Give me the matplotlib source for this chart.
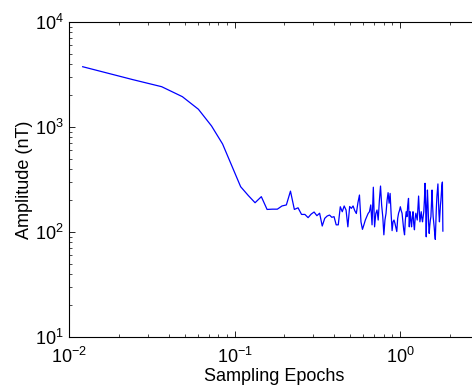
import matplotlib
matplotlib.use("Agg")
import matplotlib.pyplot as plt
import numpy as np

plt.rcParams["font.family"] = ["Liberation Sans", "DejaVu Sans"]
plt.rcParams["mathtext.fontset"] = "custom"
plt.rcParams["mathtext.rm"] = "Liberation Sans"
plt.rcParams["mathtext.it"] = "Liberation Sans"
plt.rcParams["mathtext.bf"] = "Liberation Sans"

# sampling epochs: evenly spaced grid
epoch_step = 0.0121
n_points = 150

# amplitude (nT)
amplitude = [
    3750, 2830, 2420, 1945, 1476, 1024, 689, 420, 270, 223,
    190, 217, 164, 165, 165, 177, 181, 245, 164, 170,
    147, 147, 137, 148, 155, 143, 151, 114, 135, 142,
    145, 138, 140, 117, 117, 174, 156, 177, 162, 112,
    175, 168, 177, 160, 150, 190, 225, 125, 106, 117,
    130, 140, 150, 156, 181, 117, 267, 112, 150, 162,
    130, 200, 274, 180, 140, 94, 130, 150, 200, 237,
    188, 233, 150, 103, 125, 130, 121, 110, 101, 135,
    151, 160, 174, 160, 151, 125, 105, 94, 130, 156,
    140, 180, 209, 112, 156, 130, 112, 140, 156, 120,
    105, 135, 151, 140, 130, 170, 220, 160, 125, 140,
    156, 135, 125, 140, 156, 200, 291, 180, 90, 170,
    251, 180, 120, 97, 115, 130, 140, 190, 251, 180,
    140, 125, 110, 95, 85, 120, 170, 217, 250, 287,
    200, 150, 125, 150, 180, 202, 240, 280, 299, 102,
]

epochs = epoch_step * np.arange(1, n_points + 1)

fig = plt.figure(figsize=(4.72, 3.90), dpi=100)
ax = fig.add_axes([69 / 472, 1 - 337 / 390, (479 - 69) / 472, (337 - 22) / 390])
ax.loglog(epochs, amplitude, color="#0000ff", linewidth=0.9)

ax.set_xlim(0.01, 3)
ax.set_ylim(10, 1e4)
ax.set_xlabel("Sampling Epochs", fontsize=13, labelpad=1)
ax.set_ylabel("Amplitude (nT)", fontsize=13, labelpad=1)

ax.tick_params(which="both", direction="in", top=True, right=True, labelsize=13)
ax.tick_params(which="major", length=4, width=0.6)
ax.tick_params(which="minor", length=2, width=0.5)
ax.tick_params(axis="x", which="major", pad=7)
ax.tick_params(axis="y", which="major", pad=4)
for s in ax.spines.values():
    s.set_linewidth(0.8)

fig.savefig("out.png", dpi=100)
